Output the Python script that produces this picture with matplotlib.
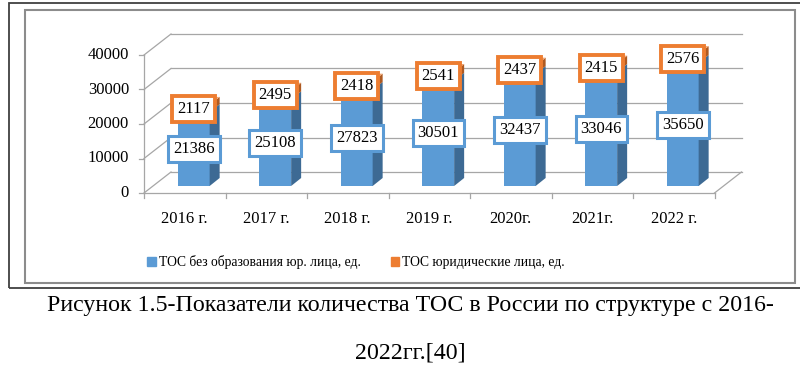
import numpy as np
from matplotlib import pyplot as plt
from matplotlib.patches import Polygon, Rectangle, Patch

plt.rcParams['font.family'] = ['Liberation Serif', 'DejaVu Serif']

years = ['2016 г.', '2017 г.', '2018 г.', '2019 г.', '2020г.', '2021г.', '2022 г.']
tos_no_legal = [21386, 25108, 27823, 30501, 32437, 33046, 35650]
tos_legal = [2117, 2495, 2418, 2541, 2437, 2415, 2576]
yticks = [0, 10000, 20000, 30000, 40000]
legend_labels = ['ТОС без образования юр. лица, ед.', 'ТОС юридические лица, ед.']
caption = ['Рисунок 1.5-Показатели количества ТОС в России по структуре с 2016-',
           '2022гг.[40]']

BLUE = '#5b9bd5'
BLUE_SIDE = '#3d6a94'
ORANGE = '#ed7d31'
ORANGE_SIDE = '#ae5a22'
GRID = '#a6a6a6'

W, H = 800, 372
fig = plt.figure(figsize=(W / 100, H / 100), dpi=100)

# axes = plane of the bar fronts
ax = fig.add_axes([153 / W, 0.5, 570.5 / W, 138 / H])
xmin, xmax, ymax = -0.5, len(years) - 0.5, 40000
ax.set_xlim(xmin, xmax)
ax.set_ylim(0, ymax)
ax.set_axis_off()

# pixel -> data units
ux = (xmax - xmin) / 570.5
uy = ymax / 138.0


def shift(d):
    # depth d: 0 = front edge, 1 = back wall
    return (27 * d - 9) * ux, (21 * d - 7) * uy


fx, fy = shift(0)
bx, by = shift(1)

# back wall + left wall gridlines
for v in yticks:
    ax.plot([xmin + bx, xmax + bx], [v + by, v + by], color=GRID, lw=0.9,
            clip_on=False, zorder=1)
    ax.plot([xmin + fx, xmin + bx], [v + fy, v + by], color=GRID, lw=0.9,
            clip_on=False, zorder=1)
    ax.plot([xmin + fx - 5 * ux, xmin + fx], [v + fy, v + fy], color=GRID,
            lw=0.9, clip_on=False, zorder=1)
    ax.text(xmin + fx - 15 * ux, v + fy, f'{v}', ha='right', va='center',
            fontsize=12)

# floor
ax.plot([xmin + fx, xmin + fx], [fy, ymax + fy], color=GRID, lw=0.9,
        clip_on=False, zorder=1)
ax.plot([xmin + fx, xmax + fx], [fy, fy], color=GRID, lw=0.9, clip_on=False,
        zorder=1)
ax.plot([xmax + fx, xmax + bx], [fy, by], color=GRID, lw=0.9, clip_on=False,
        zorder=1)
for i in range(len(years) + 1):
    xt = xmin + i + fx
    ax.plot([xt, xt], [fy, fy - 5 * uy], color=GRID, lw=0.9, clip_on=False,
            zorder=1)

x = np.arange(len(years))
w = 0.39
blue = np.array(tos_no_legal)
orange = np.array(tos_legal)
ax.bar(x, blue, width=w, color=BLUE, zorder=3)
ax.bar(x, orange, bottom=blue, color=ORANGE, width=w, zorder=3)

# 3d side / top faces
ddx, ddy = 10 * ux, 8 * uy
for xi, b, o in zip(x, blue, orange):
    r = xi + w / 2
    for y0, y1, c in [(0, b, BLUE_SIDE), (b, b + o, ORANGE_SIDE)]:
        ax.add_patch(Polygon([(r, y0), (r + ddx, y0 + ddy), (r + ddx, y1 + ddy),
                              (r, y1)], closed=True, fc=c, ec='none',
                             zorder=3, clip_on=False))
    top = b + o
    ax.add_patch(Polygon([(xi - w / 2, top), (r, top), (r + ddx, top + ddy),
                          (xi - w / 2 + ddx, top + ddy)], closed=True,
                         fc='#f4a36b', ec='none', zorder=3, clip_on=False))

# value labels
for xi, b, o in zip(x, blue, orange):
    ax.text(xi, b / 2, f'{b}', ha='center', va='center', fontsize=12, zorder=5,
            bbox=dict(boxstyle='square,pad=0.3', fc='white', ec=BLUE, lw=2.2))
    ax.text(xi, b + o / 2, f'{o}', ha='center', va='center', fontsize=12,
            zorder=5,
            bbox=dict(boxstyle='square,pad=0.3', fc='white', ec=ORANGE, lw=2.8))

# category labels
for xi, lab in zip(x, years):
    ax.text(xi + fx, fy - 26 * uy, lab, ha='center', va='center', fontsize=12)

fig.legend(handles=[Patch(color=BLUE), Patch(color=ORANGE)],
           labels=legend_labels, loc='center', bbox_to_anchor=(0.445, 0.296),
           ncol=2, frameon=False, fontsize=9.8, handlelength=0.65,
           handleheight=0.65, handletextpad=0.2, columnspacing=2.2)

# frames
fig.add_artist(Rectangle((9 / W, 1 - 288 / H), 1.0, 285 / H,
                         transform=fig.transFigure, fill=False, ec='#404040',
                         lw=1.3))
fig.add_artist(Rectangle((25 / W, 1 - 283 / H), 770 / W, 273 / H,
                         transform=fig.transFigure, fill=False, ec='#8c8c8c',
                         lw=1.5))

fig.text(0.513, 1 - 305 / H, caption[0], ha='center', va='center', fontsize=17.2)
fig.text(0.513, 1 - 353 / H, caption[1], ha='center', va='center', fontsize=17.2)

fig.savefig('out.png', dpi=100)
